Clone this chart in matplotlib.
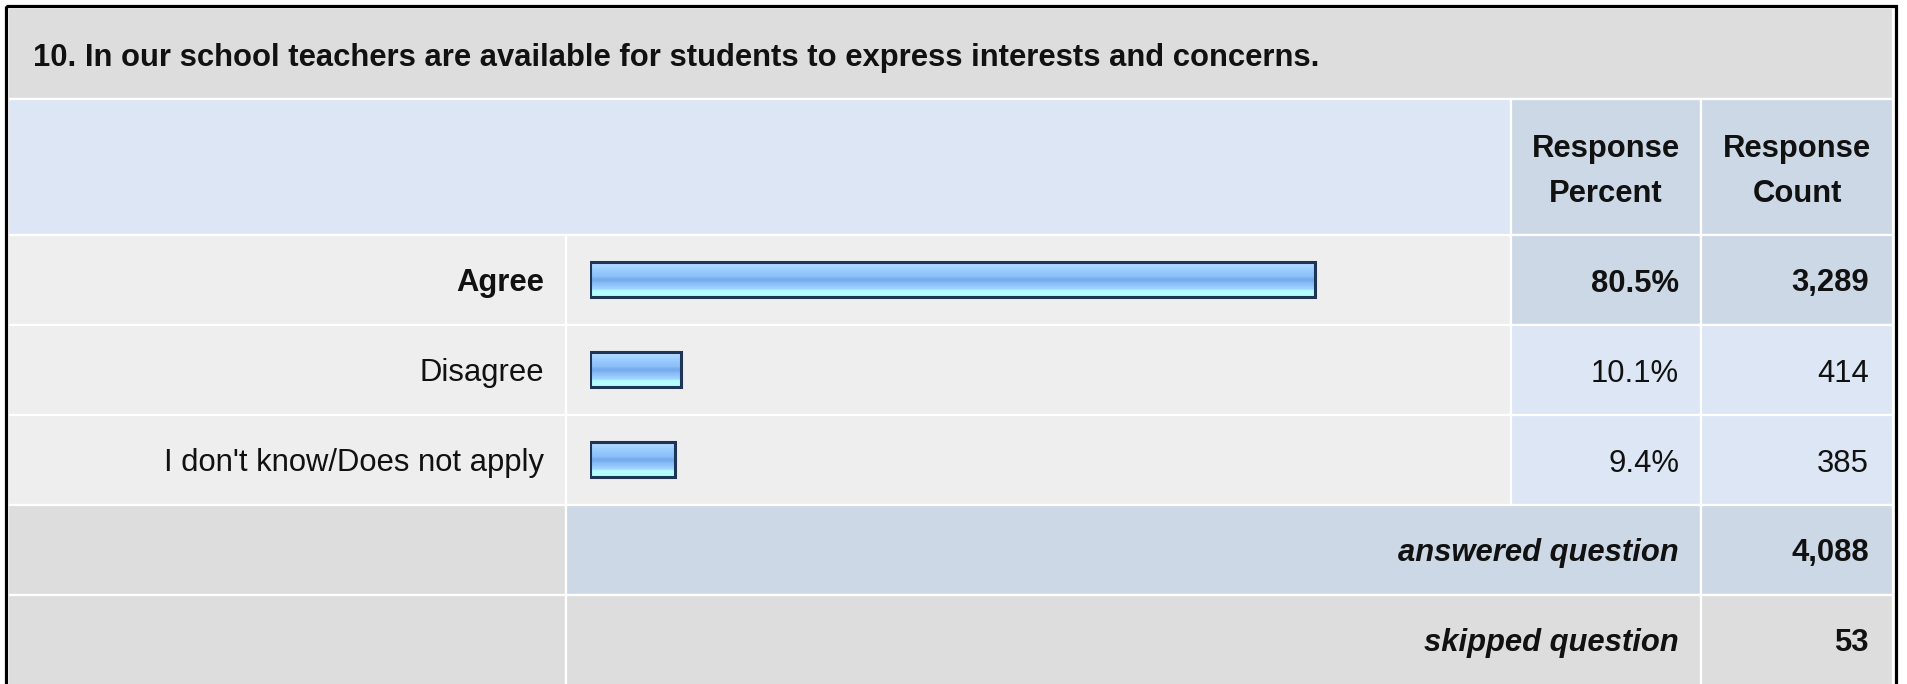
"""Survey question table with horizontal response bars."""

import matplotlib
matplotlib.use("Agg")
import matplotlib.pyplot as plt
import numpy as np
from matplotlib.colors import to_rgb
from matplotlib.patches import Rectangle

plt.rcParams["font.family"] = ["Liberation Sans", "DejaVu Sans"]

# data
question = "10. In our school teachers are available for students to express interests and concerns."
choices = ["Agree", "Disagree", "I don't know/Does not apply"]
percents = [80.5, 10.1, 9.4]
counts = [3289, 414, 385]
answered = 4088
skipped = 53

W, H = 1907, 684
DPI = 100

GRAY = "#DDDDDD"
ROW_BG = "#EEEEEE"
LIGHT_BLUE = "#DCE6F4"
DARK_BLUE = "#CCD8E6"

# layout in pixels (top-left origin)
col_x = [8, 566, 1510.5, 1701, 1893]
row_y = [8, 98.5, 234.5, 324.5, 414.5, 504.5, 594.5, 690]
FS = 22.3
BASE = 12  # baseline offset below the row centre

fig = plt.figure(figsize=(W / DPI, H / DPI), dpi=DPI, facecolor="white")
ax = fig.add_axes([0, 0, 1, 1])
ax.set_xlim(0, W)
ax.set_ylim(H, 0)
ax.axis("off")


def cell(x0, x1, y0, y1, color):
    ax.add_patch(Rectangle((x0, y0), x1 - x0, y1 - y0, facecolor=color,
                           edgecolor="white", linewidth=1.6))


def txt(x, y, s, ha="right", **kw):
    ax.text(x, y, s, fontsize=FS, ha=ha, va="baseline", color="#111111", **kw)


# header rows
cell(col_x[0], col_x[4], row_y[0], row_y[1], GRAY)
cell(col_x[0], col_x[2], row_y[1], row_y[2], LIGHT_BLUE)
cell(col_x[2], col_x[3], row_y[1], row_y[2], DARK_BLUE)
cell(col_x[3], col_x[4], row_y[1], row_y[2], DARK_BLUE)

txt(33, 66, question, ha="left", fontweight="bold")
pc_x = (col_x[2] + col_x[3]) / 2
ct_x = (col_x[3] + col_x[4]) / 2
txt(pc_x, 157, "Response", ha="center", fontweight="bold")
txt(pc_x, 202, "Percent", ha="center", fontweight="bold")
txt(ct_x, 157, "Response", ha="center", fontweight="bold")
txt(ct_x, 202, "Count", ha="center", fontweight="bold")

# answer rows
top_idx = int(np.argmax(percents))
for i, (name, p, c) in enumerate(zip(choices, percents, counts)):
    y0, y1 = row_y[2 + i], row_y[3 + i]
    yb = (y0 + y1) / 2 + BASE
    is_top = i == top_idx
    cell(col_x[0], col_x[1], y0, y1, ROW_BG)
    cell(col_x[1], col_x[2], y0, y1, ROW_BG)
    cell(col_x[2], col_x[3], y0, y1, DARK_BLUE if is_top else LIGHT_BLUE)
    cell(col_x[3], col_x[4], y0, y1, DARK_BLUE if is_top else LIGHT_BLUE)
    weight = "bold" if is_top else "normal"
    txt(544, yb, name, fontweight=weight)
    txt(1679, yb, f"{p:.1f}%", fontweight=weight)
    txt(1869, yb, f"{c:,}", fontweight=weight)

# summary rows
y0, y1 = row_y[5], row_y[6]
cell(col_x[0], col_x[1], y0, y1, GRAY)
cell(col_x[1], col_x[3], y0, y1, DARK_BLUE)
cell(col_x[3], col_x[4], y0, y1, DARK_BLUE)
txt(1679, (y0 + y1) / 2 + BASE, "answered question", fontweight="bold", fontstyle="italic")
txt(1869, (y0 + y1) / 2 + BASE, f"{answered:,}", fontweight="bold")

y0, y1 = row_y[6], row_y[7]
cell(col_x[0], col_x[1], y0, y1, GRAY)
cell(col_x[1], col_x[3], y0, y1, GRAY)
cell(col_x[3], col_x[4], y0, y1, GRAY)
txt(1679, (y0 + H) / 2 + BASE, "skipped question", fontweight="bold", fontstyle="italic")
txt(1869, (y0 + H) / 2 + BASE, f"{skipped:,}", fontweight="bold")

# outer black frame
ax.add_patch(Rectangle((5.5, 5.5), 1890.5, 700, facecolor="none",
                       edgecolor="black", linewidth=2.3, zorder=5))

# bar axes over the bar column
bx0, bw = 590, 900
by0, by1 = row_y[2], row_y[5]
bax = fig.add_axes([bx0 / W, 1 - by1 / H, bw / W, (by1 - by0) / H])
bax.axis("off")

stops = [(0.0, "#C8E3FF"), (0.1, "#B0D8FF"), (0.25, "#99CCFF"), (0.42, "#8CC0F8"),
         (0.52, "#74A9EC"), (0.64, "#8AC0F6"), (0.76, "#9ED2FF"), (0.84, "#B3FDFF"),
         (1.0, "#B3FDFF")]
t = np.linspace(0, 1, 64)
grad = np.zeros((64, 1, 3))
for k in range(3):
    grad[:, 0, k] = np.interp(t, [s[0] for s in stops], [to_rgb(s[1])[k] for s in stops])

ypos = np.arange(len(choices))
bh = 0.39
bars = bax.barh(ypos, percents, height=bh, left=0, facecolor="none",
                edgecolor="#1E3556", linewidth=2.2, zorder=3)
for b in bars:
    x, y, w, h = b.get_x(), b.get_y(), b.get_width(), b.get_height()
    im = bax.imshow(grad, extent=(x, x + w, y + h, y), origin="upper",
                    aspect="auto", zorder=2, interpolation="nearest")
    im.set_clip_path(b)
bax.set_xlim(0, 100)
bax.set_ylim(len(choices) - 0.5, -0.5)

fig.savefig("out.png", dpi=DPI, facecolor="white")
